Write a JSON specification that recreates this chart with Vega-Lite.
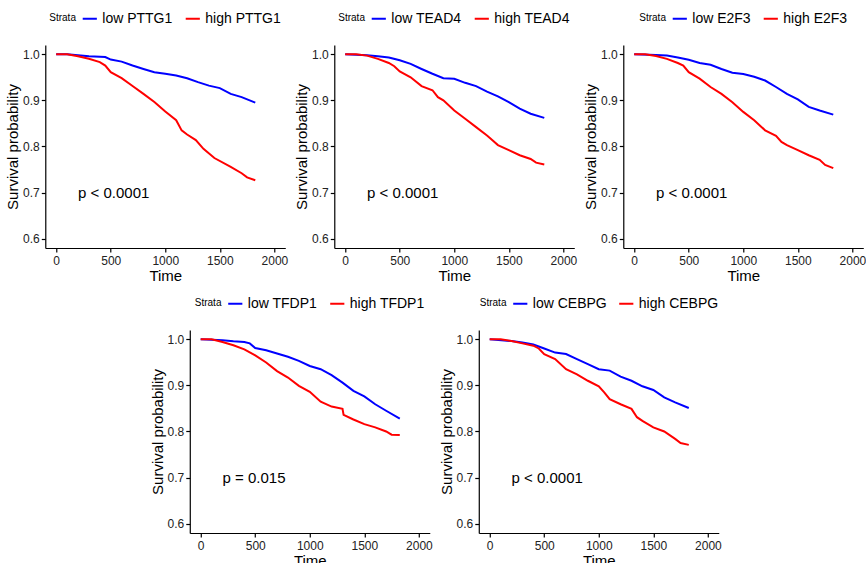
{
"$schema":"https://vega.github.io/schema/vega-lite/v6.json",
"padding":{"left":5,"top":10,"right":0,"bottom":0},
"datasets":{
"PTTG1":[
{"s":"low PTTG1","t":0,"p":1},{"s":"low PTTG1","t":100,"p":1},{"s":"low PTTG1","t":200,"p":0.998},{"s":"low PTTG1","t":300,"p":0.9957},{"s":"low PTTG1","t":450,"p":0.994},{"s":"low PTTG1","t":500,"p":0.9885},{"s":"low PTTG1","t":600,"p":0.984},{"s":"low PTTG1","t":700,"p":0.9755},{"s":"low PTTG1","t":800,"p":0.968},{"s":"low PTTG1","t":900,"p":0.961},{"s":"low PTTG1","t":1000,"p":0.9576},{"s":"low PTTG1","t":1100,"p":0.954},{"s":"low PTTG1","t":1200,"p":0.948},{"s":"low PTTG1","t":1300,"p":0.9396},{"s":"low PTTG1","t":1400,"p":0.932},{"s":"low PTTG1","t":1500,"p":0.9266},{"s":"low PTTG1","t":1600,"p":0.914},{"s":"low PTTG1","t":1700,"p":0.907},{"s":"low PTTG1","t":1825,"p":0.895},
{"s":"high PTTG1","t":0,"p":1},{"s":"high PTTG1","t":100,"p":1},{"s":"high PTTG1","t":200,"p":0.9957},{"s":"high PTTG1","t":300,"p":0.99},{"s":"high PTTG1","t":400,"p":0.983},{"s":"high PTTG1","t":450,"p":0.9755},{"s":"high PTTG1","t":500,"p":0.961},{"s":"high PTTG1","t":600,"p":0.948},{"s":"high PTTG1","t":700,"p":0.931},{"s":"high PTTG1","t":800,"p":0.914},{"s":"high PTTG1","t":900,"p":0.8964},{"s":"high PTTG1","t":1000,"p":0.876},{"s":"high PTTG1","t":1100,"p":0.857},{"s":"high PTTG1","t":1150,"p":0.835},{"s":"high PTTG1","t":1200,"p":0.826},{"s":"high PTTG1","t":1280,"p":0.814},{"s":"high PTTG1","t":1350,"p":0.795},{"s":"high PTTG1","t":1450,"p":0.775},{"s":"high PTTG1","t":1600,"p":0.756},{"s":"high PTTG1","t":1700,"p":0.742},{"s":"high PTTG1","t":1750,"p":0.733},{"s":"high PTTG1","t":1825,"p":0.727}
],
"TEAD4":[
{"s":"low TEAD4","t":0,"p":1},{"s":"low TEAD4","t":200,"p":0.998},{"s":"low TEAD4","t":300,"p":0.9957},{"s":"low TEAD4","t":400,"p":0.993},{"s":"low TEAD4","t":500,"p":0.987},{"s":"low TEAD4","t":600,"p":0.979},{"s":"low TEAD4","t":700,"p":0.968},{"s":"low TEAD4","t":800,"p":0.9576},{"s":"low TEAD4","t":900,"p":0.948},{"s":"low TEAD4","t":1000,"p":0.9468},{"s":"low TEAD4","t":1100,"p":0.938},{"s":"low TEAD4","t":1200,"p":0.931},{"s":"low TEAD4","t":1300,"p":0.919},{"s":"low TEAD4","t":1400,"p":0.9086},{"s":"low TEAD4","t":1500,"p":0.8964},{"s":"low TEAD4","t":1600,"p":0.882},{"s":"low TEAD4","t":1700,"p":0.871},{"s":"low TEAD4","t":1825,"p":0.862},
{"s":"high TEAD4","t":0,"p":1},{"s":"high TEAD4","t":100,"p":1},{"s":"high TEAD4","t":200,"p":0.997},{"s":"high TEAD4","t":300,"p":0.99},{"s":"high TEAD4","t":400,"p":0.981},{"s":"high TEAD4","t":450,"p":0.974},{"s":"high TEAD4","t":500,"p":0.9626},{"s":"high TEAD4","t":600,"p":0.95},{"s":"high TEAD4","t":700,"p":0.931},{"s":"high TEAD4","t":800,"p":0.922},{"s":"high TEAD4","t":850,"p":0.907},{"s":"high TEAD4","t":900,"p":0.9},{"s":"high TEAD4","t":1000,"p":0.878},{"s":"high TEAD4","t":1100,"p":0.86},{"s":"high TEAD4","t":1200,"p":0.842},{"s":"high TEAD4","t":1300,"p":0.824},{"s":"high TEAD4","t":1350,"p":0.8137},{"s":"high TEAD4","t":1400,"p":0.803},{"s":"high TEAD4","t":1500,"p":0.792},{"s":"high TEAD4","t":1600,"p":0.781},{"s":"high TEAD4","t":1700,"p":0.773},{"s":"high TEAD4","t":1750,"p":0.765},{"s":"high TEAD4","t":1825,"p":0.761}
],
"E2F3":[
{"s":"low E2F3","t":0,"p":1},{"s":"low E2F3","t":200,"p":0.9985},{"s":"low E2F3","t":300,"p":0.997},{"s":"low E2F3","t":400,"p":0.993},{"s":"low E2F3","t":500,"p":0.988},{"s":"low E2F3","t":600,"p":0.981},{"s":"low E2F3","t":700,"p":0.977},{"s":"low E2F3","t":800,"p":0.968},{"s":"low E2F3","t":900,"p":0.96},{"s":"low E2F3","t":1000,"p":0.957},{"s":"low E2F3","t":1100,"p":0.951},{"s":"low E2F3","t":1200,"p":0.943},{"s":"low E2F3","t":1300,"p":0.929},{"s":"low E2F3","t":1400,"p":0.914},{"s":"low E2F3","t":1500,"p":0.902},{"s":"low E2F3","t":1600,"p":0.886},{"s":"low E2F3","t":1700,"p":0.878},{"s":"low E2F3","t":1825,"p":0.869},
{"s":"high E2F3","t":0,"p":1},{"s":"high E2F3","t":100,"p":1},{"s":"high E2F3","t":200,"p":0.996},{"s":"high E2F3","t":300,"p":0.99},{"s":"high E2F3","t":400,"p":0.981},{"s":"high E2F3","t":450,"p":0.9755},{"s":"high E2F3","t":500,"p":0.961},{"s":"high E2F3","t":600,"p":0.947},{"s":"high E2F3","t":700,"p":0.929},{"s":"high E2F3","t":800,"p":0.914},{"s":"high E2F3","t":900,"p":0.896},{"s":"high E2F3","t":1000,"p":0.875},{"s":"high E2F3","t":1100,"p":0.857},{"s":"high E2F3","t":1200,"p":0.835},{"s":"high E2F3","t":1300,"p":0.823},{"s":"high E2F3","t":1350,"p":0.81},{"s":"high E2F3","t":1400,"p":0.803},{"s":"high E2F3","t":1500,"p":0.792},{"s":"high E2F3","t":1600,"p":0.781},{"s":"high E2F3","t":1700,"p":0.771},{"s":"high E2F3","t":1750,"p":0.76},{"s":"high E2F3","t":1825,"p":0.753}
],
"TFDP1":[
{"s":"low TFDP1","t":0,"p":1},{"s":"low TFDP1","t":200,"p":0.998},{"s":"low TFDP1","t":300,"p":0.9957},{"s":"low TFDP1","t":400,"p":0.994},{"s":"low TFDP1","t":450,"p":0.991},{"s":"low TFDP1","t":500,"p":0.981},{"s":"low TFDP1","t":600,"p":0.976},{"s":"low TFDP1","t":700,"p":0.969},{"s":"low TFDP1","t":800,"p":0.962},{"s":"low TFDP1","t":900,"p":0.953},{"s":"low TFDP1","t":1000,"p":0.942},{"s":"low TFDP1","t":1100,"p":0.935},{"s":"low TFDP1","t":1200,"p":0.922},{"s":"low TFDP1","t":1300,"p":0.906},{"s":"low TFDP1","t":1400,"p":0.888},{"s":"low TFDP1","t":1500,"p":0.876},{"s":"low TFDP1","t":1600,"p":0.859},{"s":"low TFDP1","t":1700,"p":0.845},{"s":"low TFDP1","t":1825,"p":0.828},
{"s":"high TFDP1","t":0,"p":1},{"s":"high TFDP1","t":100,"p":1},{"s":"high TFDP1","t":200,"p":0.994},{"s":"high TFDP1","t":300,"p":0.987},{"s":"high TFDP1","t":400,"p":0.978},{"s":"high TFDP1","t":500,"p":0.965},{"s":"high TFDP1","t":600,"p":0.9496},{"s":"high TFDP1","t":700,"p":0.931},{"s":"high TFDP1","t":800,"p":0.917},{"s":"high TFDP1","t":900,"p":0.899},{"s":"high TFDP1","t":1000,"p":0.886},{"s":"high TFDP1","t":1100,"p":0.8645},{"s":"high TFDP1","t":1200,"p":0.854},{"s":"high TFDP1","t":1300,"p":0.849},{"s":"high TFDP1","t":1310,"p":0.836},{"s":"high TFDP1","t":1400,"p":0.826},{"s":"high TFDP1","t":1500,"p":0.816},{"s":"high TFDP1","t":1600,"p":0.809},{"s":"high TFDP1","t":1700,"p":0.8},{"s":"high TFDP1","t":1750,"p":0.793},{"s":"high TFDP1","t":1825,"p":0.7925}
],
"CEBPG":[
{"s":"low CEBPG","t":0,"p":1},{"s":"low CEBPG","t":200,"p":0.996},{"s":"low CEBPG","t":300,"p":0.993},{"s":"low CEBPG","t":400,"p":0.9885},{"s":"low CEBPG","t":500,"p":0.98},{"s":"low CEBPG","t":600,"p":0.971},{"s":"low CEBPG","t":700,"p":0.968},{"s":"low CEBPG","t":800,"p":0.957},{"s":"low CEBPG","t":900,"p":0.946},{"s":"low CEBPG","t":1000,"p":0.935},{"s":"low CEBPG","t":1100,"p":0.932},{"s":"low CEBPG","t":1200,"p":0.919},{"s":"low CEBPG","t":1300,"p":0.91},{"s":"low CEBPG","t":1400,"p":0.898},{"s":"low CEBPG","t":1500,"p":0.89},{"s":"low CEBPG","t":1600,"p":0.874},{"s":"low CEBPG","t":1700,"p":0.863},{"s":"low CEBPG","t":1825,"p":0.851},
{"s":"high CEBPG","t":0,"p":1},{"s":"high CEBPG","t":100,"p":1},{"s":"high CEBPG","t":200,"p":0.996},{"s":"high CEBPG","t":300,"p":0.991},{"s":"high CEBPG","t":400,"p":0.986},{"s":"high CEBPG","t":450,"p":0.98},{"s":"high CEBPG","t":500,"p":0.9676},{"s":"high CEBPG","t":600,"p":0.957},{"s":"high CEBPG","t":700,"p":0.935},{"s":"high CEBPG","t":800,"p":0.924},{"s":"high CEBPG","t":900,"p":0.91},{"s":"high CEBPG","t":1000,"p":0.898},{"s":"high CEBPG","t":1050,"p":0.885},{"s":"high CEBPG","t":1100,"p":0.87},{"s":"high CEBPG","t":1200,"p":0.859},{"s":"high CEBPG","t":1300,"p":0.849},{"s":"high CEBPG","t":1350,"p":0.831},{"s":"high CEBPG","t":1400,"p":0.823},{"s":"high CEBPG","t":1500,"p":0.809},{"s":"high CEBPG","t":1600,"p":0.8},{"s":"high CEBPG","t":1700,"p":0.784},{"s":"high CEBPG","t":1750,"p":0.775},{"s":"high CEBPG","t":1825,"p":0.771}
]
},
"vconcat":[
{"hconcat":[
{"width":240,"height":203,"layer":[
{"data":{"name":"PTTG1"},"mark":{"type":"line","strokeWidth":2},"encoding":{
"x":{"field":"t","type":"quantitative","title":"Time","scale":{"domain":[-100,2100],"nice":false,"zero":false},"axis":{"values":[0,500,1000,1500,2000],"format":"d","labelPadding":3}},
"y":{"field":"p","type":"quantitative","title":"Survival probability","scale":{"domain":[0.58,1.02],"nice":false,"zero":false},"axis":{"values":[0.6,0.7,0.8,0.9,1.0],"format":".1f"}},
"color":{"field":"s","type":"nominal","title":"Strata","scale":{"domain":["low PTTG1","high PTTG1"],"range":["#0000FF","#FF0000"]}}}},
{"data":{"values":[{"t":200,"p":0.7,"label":"p < 0.0001"}]},"mark":{"type":"text","align":"left","baseline":"middle","fontSize":15},"encoding":{"x":{"field":"t","type":"quantitative","title":"Time"},"y":{"field":"p","type":"quantitative","title":"Survival probability"},"text":{"field":"label"}}}
]},
{"width":240,"height":203,"layer":[
{"data":{"name":"TEAD4"},"mark":{"type":"line","strokeWidth":2},"encoding":{
"x":{"field":"t","type":"quantitative","title":"Time","scale":{"domain":[-100,2100],"nice":false,"zero":false},"axis":{"values":[0,500,1000,1500,2000],"format":"d","labelPadding":3}},
"y":{"field":"p","type":"quantitative","title":"Survival probability","scale":{"domain":[0.58,1.02],"nice":false,"zero":false},"axis":{"values":[0.6,0.7,0.8,0.9,1.0],"format":".1f"}},
"color":{"field":"s","type":"nominal","title":"Strata","scale":{"domain":["low TEAD4","high TEAD4"],"range":["#0000FF","#FF0000"]}}}},
{"data":{"values":[{"t":200,"p":0.7,"label":"p < 0.0001"}]},"mark":{"type":"text","align":"left","baseline":"middle","fontSize":15},"encoding":{"x":{"field":"t","type":"quantitative","title":"Time"},"y":{"field":"p","type":"quantitative","title":"Survival probability"},"text":{"field":"label"}}}
]},
{"width":240,"height":203,"layer":[
{"data":{"name":"E2F3"},"mark":{"type":"line","strokeWidth":2},"encoding":{
"x":{"field":"t","type":"quantitative","title":"Time","scale":{"domain":[-100,2100],"nice":false,"zero":false},"axis":{"values":[0,500,1000,1500,2000],"format":"d","labelPadding":3}},
"y":{"field":"p","type":"quantitative","title":"Survival probability","scale":{"domain":[0.58,1.02],"nice":false,"zero":false},"axis":{"values":[0.6,0.7,0.8,0.9,1.0],"format":".1f"}},
"color":{"field":"s","type":"nominal","title":"Strata","scale":{"domain":["low E2F3","high E2F3"],"range":["#0000FF","#FF0000"]}}}},
{"data":{"values":[{"t":200,"p":0.7,"label":"p < 0.0001"}]},"mark":{"type":"text","align":"left","baseline":"middle","fontSize":15},"encoding":{"x":{"field":"t","type":"quantitative","title":"Time"},"y":{"field":"p","type":"quantitative","title":"Survival probability"},"text":{"field":"label"}}}
]}
],"spacing":49,"bounds":"flush","resolve":{"scale":{"color":"independent","x":"independent","y":"independent"},"legend":{"color":"independent"}}},
{"hconcat":[
{"width":240,"height":203,"layer":[
{"data":{"name":"TFDP1"},"mark":{"type":"line","strokeWidth":2},"encoding":{
"x":{"field":"t","type":"quantitative","title":"Time","scale":{"domain":[-100,2100],"nice":false,"zero":false},"axis":{"values":[0,500,1000,1500,2000],"format":"d","labelPadding":3}},
"y":{"field":"p","type":"quantitative","title":"Survival probability","scale":{"domain":[0.58,1.02],"nice":false,"zero":false},"axis":{"values":[0.6,0.7,0.8,0.9,1.0],"format":".1f"}},
"color":{"field":"s","type":"nominal","title":"Strata","scale":{"domain":["low TFDP1","high TFDP1"],"range":["#0000FF","#FF0000"]}}}},
{"data":{"values":[{"t":200,"p":0.7,"label":"p = 0.015"}]},"mark":{"type":"text","align":"left","baseline":"middle","fontSize":15},"encoding":{"x":{"field":"t","type":"quantitative","title":"Time"},"y":{"field":"p","type":"quantitative","title":"Survival probability"},"text":{"field":"label"}}}
]},
{"width":240,"height":203,"layer":[
{"data":{"name":"CEBPG"},"mark":{"type":"line","strokeWidth":2},"encoding":{
"x":{"field":"t","type":"quantitative","title":"Time","scale":{"domain":[-100,2100],"nice":false,"zero":false},"axis":{"values":[0,500,1000,1500,2000],"format":"d","labelPadding":3}},
"y":{"field":"p","type":"quantitative","title":"Survival probability","scale":{"domain":[0.58,1.02],"nice":false,"zero":false},"axis":{"values":[0.6,0.7,0.8,0.9,1.0],"format":".1f"}},
"color":{"field":"s","type":"nominal","title":"Strata","scale":{"domain":["low CEBPG","high CEBPG"],"range":["#0000FF","#FF0000"]}}}},
{"data":{"values":[{"t":200,"p":0.7,"label":"p < 0.0001"}]},"mark":{"type":"text","align":"left","baseline":"middle","fontSize":15},"encoding":{"x":{"field":"t","type":"quantitative","title":"Time"},"y":{"field":"p","type":"quantitative","title":"Survival probability"},"text":{"field":"label"}}}
]}
],"spacing":49,"bounds":"flush","resolve":{"scale":{"color":"independent","x":"independent","y":"independent"},"legend":{"color":"independent"}}}
],
"spacing":12,"center":true,
"resolve":{"scale":{"color":"independent","x":"independent","y":"independent"},"legend":{"color":"independent"}},
"config":{
"font":"Liberation Sans",
"view":{"stroke":null},
"axis":{"domainColor":"#000","domainWidth":1.2,"tickColor":"#000","tickSize":4,"tickWidth":1.2,"labelColor":"#222","labelFontSize":12,"titleFontSize":15,"titleFontWeight":"normal","titleColor":"#000","grid":false,"labelPadding":2,"titlePadding":2},
"legend":{"orient":"top","direction":"horizontal","titleOrient":"left","titleFontSize":10,"titleFontWeight":"normal","titleColor":"#000","labelFontSize":14,"labelColor":"#000","symbolType":"stroke","symbolStrokeWidth":2,"symbolSize":200,"columnPadding":8,"labelLimit":200,"offset":19,"layout":{"top":{"anchor":"middle"}}}
}
}
